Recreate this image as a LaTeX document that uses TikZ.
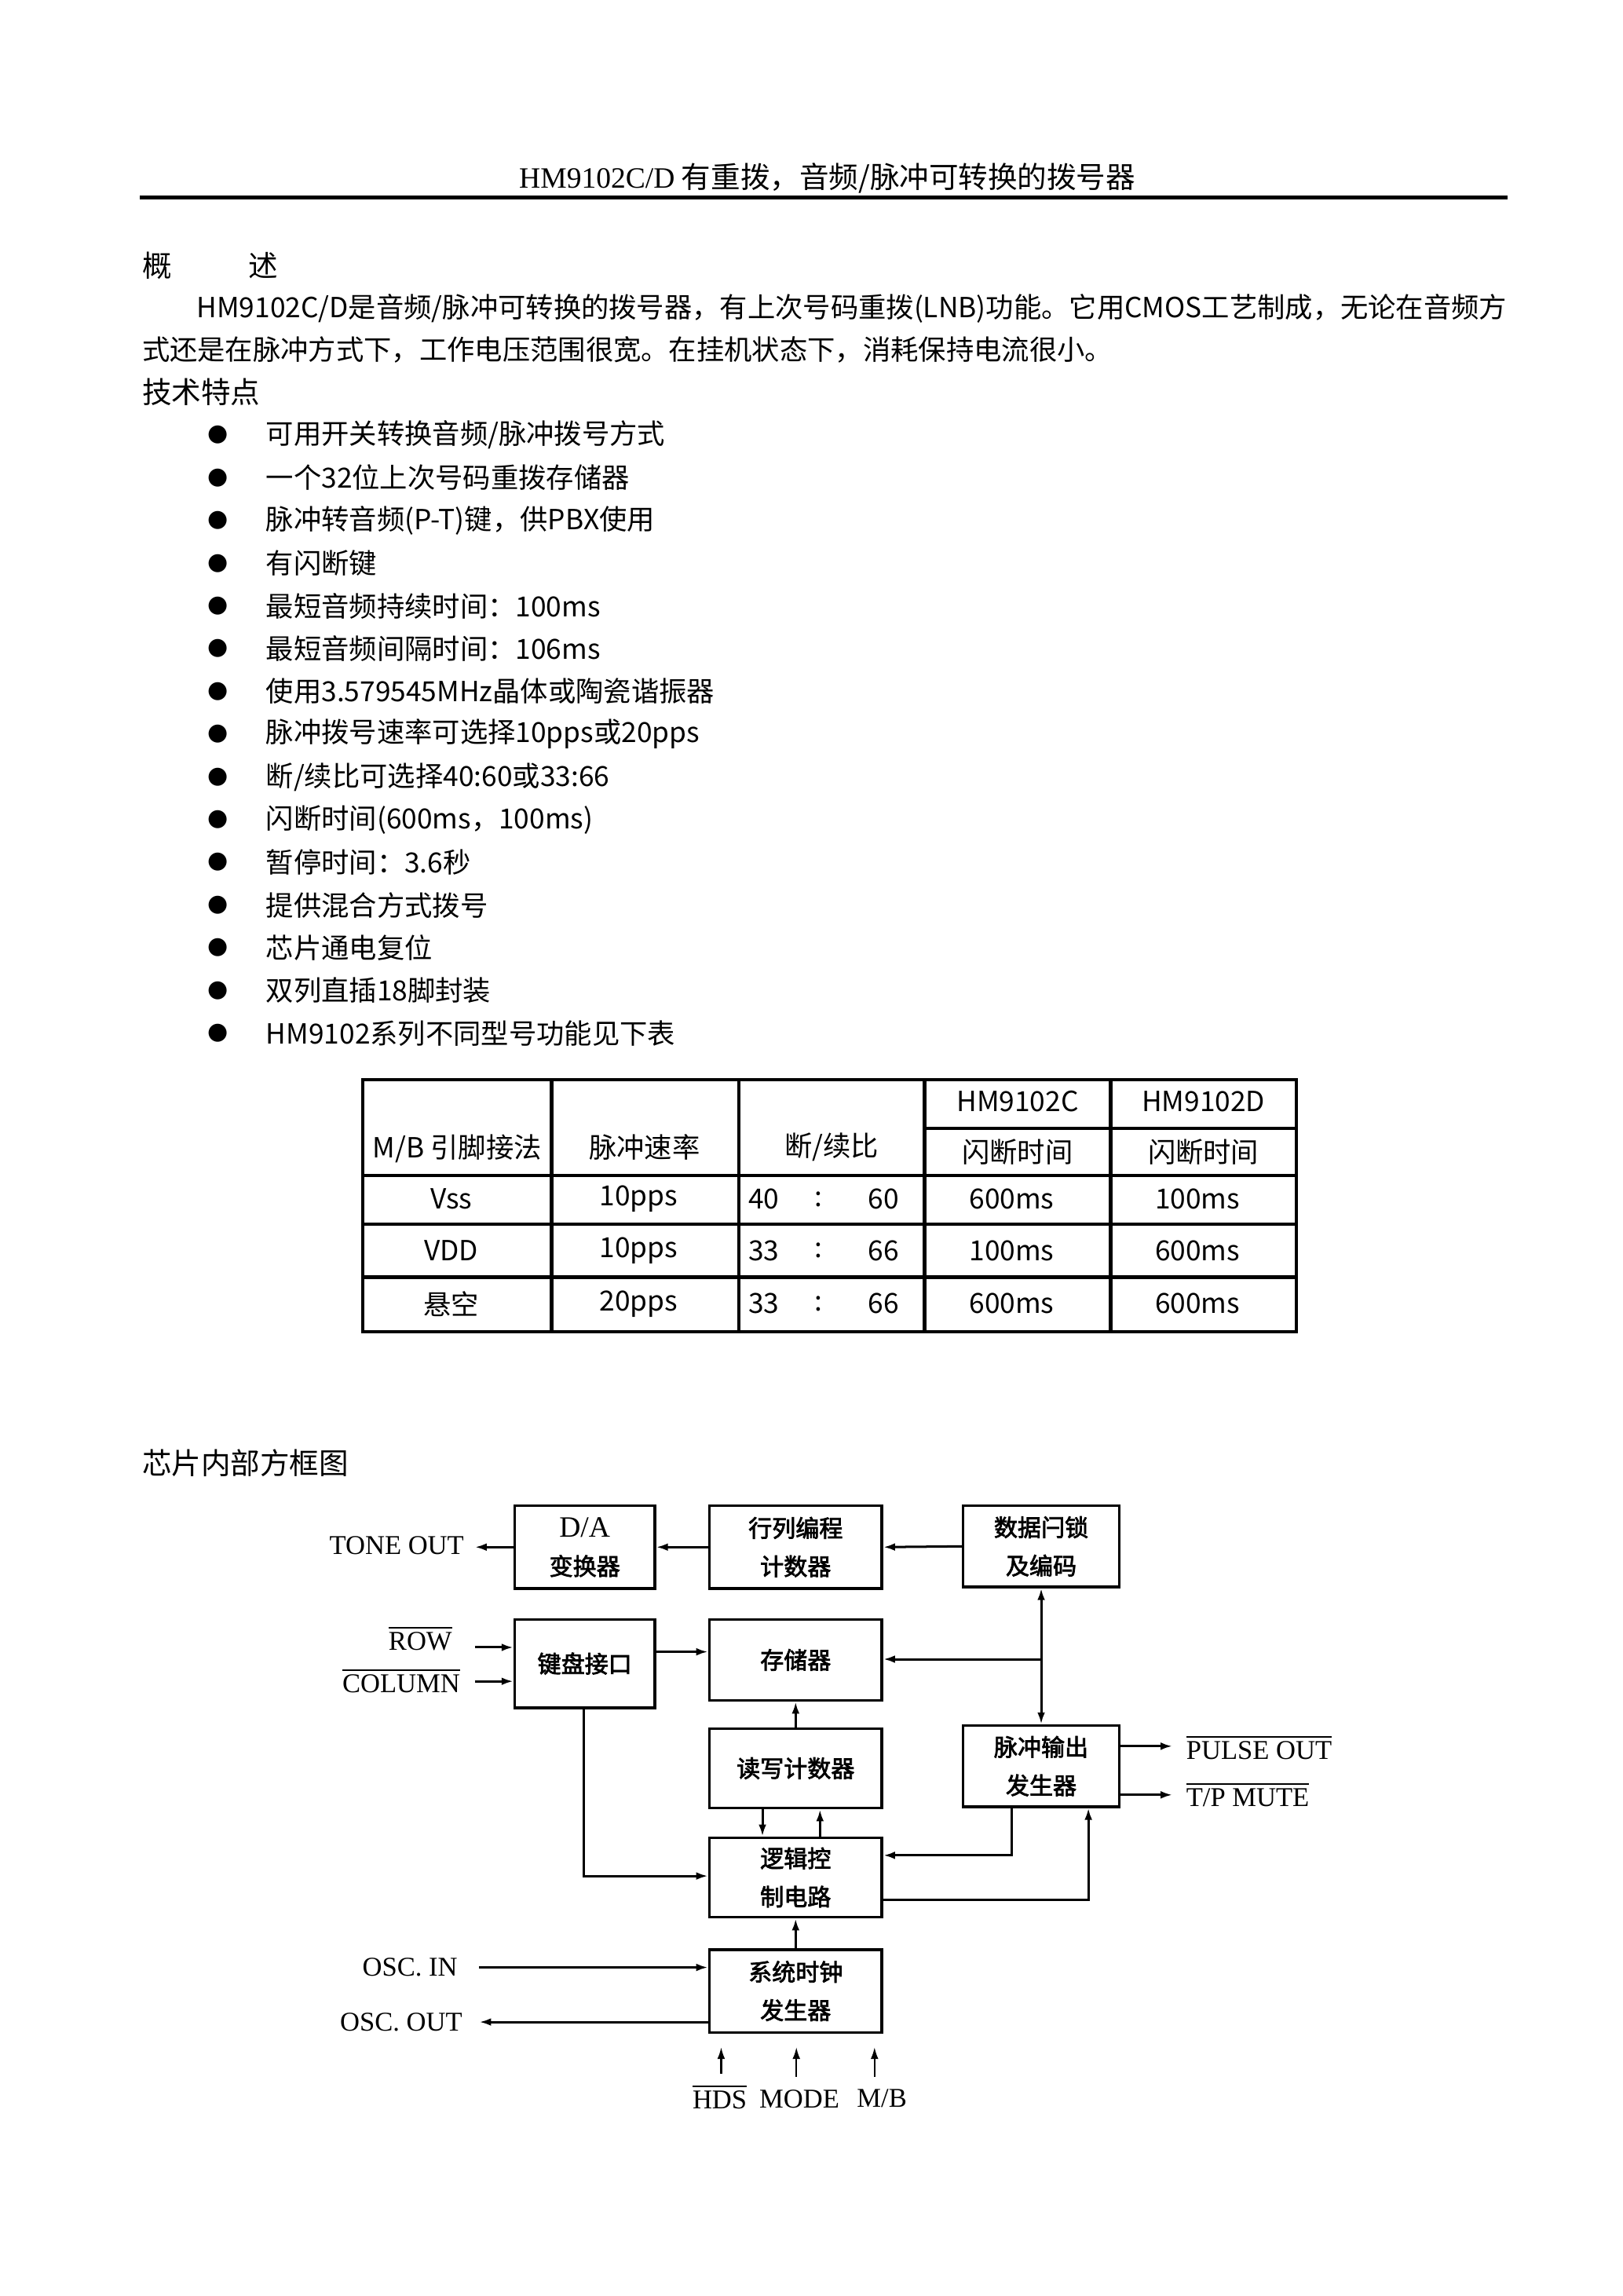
\documentclass[tikz,border=0pt]{standalone}
\usepackage{fontspec}
\setmainfont{Noto Sans CJK SC}
\newfontfamily\cjkb{Noto Sans CJK SC}[FakeBold=2.5]
\newfontfamily\lser{Liberation Serif}
\newfontfamily\djsans{DejaVu Sans}
\usetikzlibrary{arrows.meta}
\newcommand\ovl[1]{\leavevmode\vbox{\hrule height0.6pt\kern1.2pt\hbox{#1}}}
\begin{document}
\begin{tikzpicture}[x=0.5pt,y=-0.5pt,
  body/.style={anchor=west,inner sep=0pt,font=\fontsize{9.4pt}{11pt}\selectfont},
  cell/.style={inner sep=0pt,font=\fontsize{9.4pt}{11pt}\selectfont},
  bx/.style 2 args={draw,line width=0.9pt,minimum width={#1*0.5pt},minimum height={#2*0.5pt},inner sep=1pt,align=center,font=\cjkb\fontsize{8pt}{13pt}\selectfont},
  lab/.style={inner sep=0pt,font=\lser\fontsize{9.2pt}{10pt}\selectfont},
  arr/.style={-{Latex[length=4pt,width=2.6pt]},line width=0.8pt},
  tl/.style={line width=1.2pt}]
\useasboundingbox (0,0) rectangle (1100,1556.8);
% header
\node[inner sep=0pt,font=\fontsize{10pt}{12pt}\selectfont] (title) at (561,121) {{\lser HM9102C/D} 有重拨，音频/脉冲可转换的拨号器};
\draw[line width=1.2pt] (95,134) -- (1022,134);
\node[body,font=\fontsize{10pt}{12pt}\selectfont] (gs) at (96,180) {概\hspace{2.6em}述};
\node[body] (p1) at (133,209) {HM9102C/D是音频/脉冲可转换的拨号器，有上次号码重拨(LNB)功能。它用CMOS工艺制成，无论在音频方};
\node[body] (p2) at (96,237) {式还是在脉冲方式下，工作电压范围很宽。在挂机状态下，消耗保持电流很小。};
\node[body,font=\fontsize{10pt}{12pt}\selectfont] (js) at (96,266) {技术特点};
\foreach \t [count=\i] in {可用开关转换音频/脉冲拨号方式,一个32位上次号码重拨存储器,脉冲转音频(P-T)键，供PBX使用,有闪断键,最短音频持续时间：100ms,最短音频间隔时间：106ms,使用3.579545MHz晶体或陶瓷谐振器,脉冲拨号速率可选择10pps或20pps,断/续比可选择40:60或33:66,闪断时间(600ms，100ms),暂停时间：3.6秒,提供混合方式拨号,芯片通电复位,双列直插18脚封装,HM9102系列不同型号功能见下表}{
  \node[inner sep=0pt,font=\djsans\fontsize{8pt}{9pt}\selectfont] (b\i) at (148,{295+(\i-1)*28.97}) {●};
  \node[body] (t\i) at (180,{295+(\i-1)*28.97}) {\t};
}
% table
\draw[tl] (246,732) rectangle (879,903);
\foreach \x in {374,501,627,753} \draw[tl] (\x,732) -- (\x,903);
\draw[tl] (627,765) -- (879,765);
\foreach \y in {797,830,866} \draw[tl] (246,\y) -- (879,\y);
\node[cell] (h1) at (310,779) {M/B 引脚接法};
\node[cell] (h2) at (437,778) {脉冲速率};
\node[cell] (h3) at (564,778) {断/续比};
\node[cell] (h4) at (690,747) {HM9102C};
\node[cell] (h5) at (816,747) {HM9102D};
\node[cell] (h6) at (690,781) {闪断时间};
\node[cell] (h7) at (816,781) {闪断时间};
\foreach \a/\b/\c/\d/\e/\f [count=\i] in {Vss/10pps/40/60/600ms/100ms,VDD/10pps/33/66/100ms/600ms,悬空/20pps/33/66/600ms/600ms}{
  \pgfmathsetmacro\yy{{813,848,884}[\i-1]}
  \node[cell] (ra\i) at (306,\yy) {\a};
  \node[cell] (rb\i) at (433,\yy) {\b};
  \node[cell] (rc\i) at (518,\yy) {\c};
  \node[cell] (rk\i) at (555,\yy) {:};
  \node[cell] (rd\i) at (599,\yy) {\d};
  \node[cell] (re\i) at (686,\yy) {\e};
  \node[cell] (rf\i) at (812,\yy) {\f};
}
% block diagram
\node[body,font=\fontsize{10pt}{12pt}\selectfont] (kt) at (96,992) {芯片内部方框图};
\node[bx={95}{56}] (da) at (396.5,1049) {{\lser\fontsize{10pt}{12pt}\selectfont D/A}\\变换器};
\node[bx={117}{56}] (hl) at (539.5,1049) {行列编程\\计数器};
\node[bx={106}{55}] (sj) at (706,1048.5) {数据闩锁\\及编码};
\node[bx={95}{60}] (jp) at (396.5,1128) {键盘接口};
\node[bx={117}{55}] (cc) at (539.5,1125.5) {存储器};
\node[bx={117}{54}] (dx) at (539.5,1199) {读写计数器};
\node[bx={106}{55}] (mc) at (706,1197.5) {脉冲输出\\发生器};
\node[bx={117}{54}] (lj) at (539.5,1273) {逻辑控\\制电路};
\node[bx={117}{56}] (xt) at (539.5,1350) {系统时钟\\发生器};
\node[lab] (tone) at (269,1048) {TONE OUT};
\node[lab] (row) at (285,1111) {\ovl{ROW}};
\node[lab] (col) at (272,1140) {\ovl{COLUMN}};
\node[lab,anchor=west] (pulse) at (804,1185) {\ovl{PULSE OUT}};
\node[lab,anchor=west] (tp) at (804,1217) {\ovl{T/P MUTE}};
\node[lab] (oscin) at (278,1334) {OSC. IN};
\node[lab] (oscout) at (272,1371) {OSC. OUT};
\node[lab] (hds) at (488,1422) {\ovl{HDS}};
\node[lab] (mode) at (542,1423) {MODE};
\node[lab] (mb) at (598,1423) {M/B};
\coordinate (r1) at (322,1117); \coordinate (c1) at (322,1140);
\coordinate (oi) at (325,1334); \coordinate (oo) at (325,1371);
\coordinate (po) at (795,1184); \coordinate (tm) at (795,1217);
\draw[arr] (da.west) -- (322,1049);
\draw[arr] (hl.west) -- (da.east);
\draw[arr] (sj.west) -- (hl.east);
\draw[arr] (r1) -- (jp.west |- r1);
\draw[arr] (c1) -- (jp.west |- c1);
\draw[arr] (jp.east |- 0,1120) -- (cc.west |- 0,1120);
\draw[{Latex[length=4pt,width=2.6pt]}-{Latex[length=4pt,width=2.6pt]},line width=0.8pt] (sj.south) -- (mc.north);
\draw[arr] (706,1125) -- (cc.east |- 0,1125);
\draw[arr] (dx.north) -- (cc.south);
\draw[arr] (dx.south -| 517,0) -- (lj.north -| 517,0);
\draw[arr] (lj.north -| 556,0) -- (dx.south -| 556,0);
\draw[arr] (mc.south -| 686,0) -- (686,1258) -- (lj.east |- 0,1258);
\draw[arr] (lj.east |- 0,1288) -- (738,1288) -- (mc.south -| 738,0);
\draw[arr] (jp.south -| 396,0) -- (396,1272) -- (lj.west |- 0,1272);
\draw[arr] (xt.north) -- (lj.south);
\draw[arr] (oi) -- (xt.west |- oi);
\draw[arr] (xt.west |- oo) -- (oo);
\draw[arr] (mc.east |- po) -- (po);
\draw[arr] (mc.east |- tm) -- (tm);
\coordinate (u1) at (489,1388); \coordinate (u2) at (540,1388); \coordinate (u3) at (593,1388);
\draw[arr,line width=0.6pt] (489,1406) -- (u1);
\draw[arr,line width=0.6pt] (540,1408) -- (u2);
\draw[arr,line width=0.6pt] (593,1408) -- (u3);
\end{tikzpicture}
\end{document}
